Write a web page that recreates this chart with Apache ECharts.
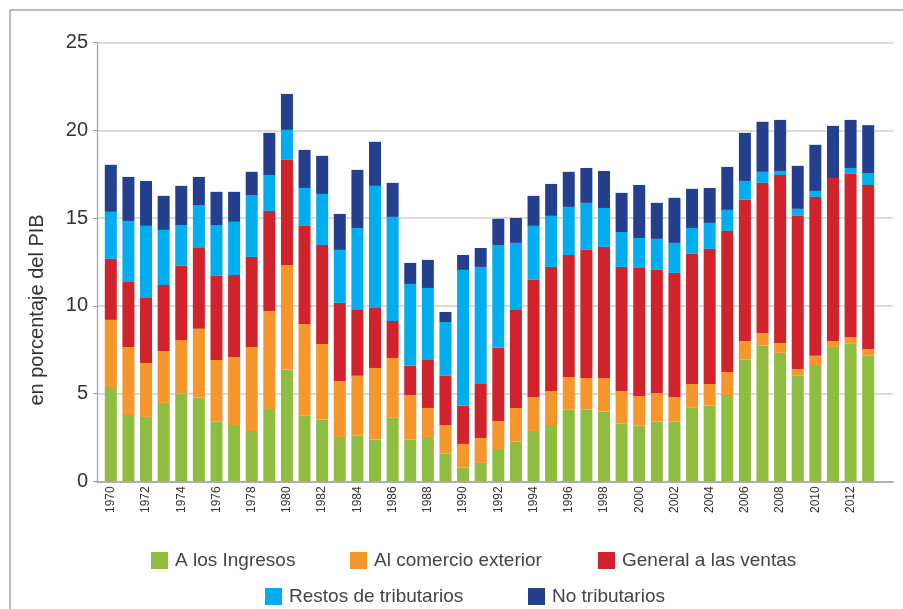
<!DOCTYPE html>
<html>
<head>
<meta charset="utf-8">
<script src="https://cdn.jsdelivr.net/npm/echarts@6/dist/echarts.min.js"></script>
<style>
  html, body { margin: 0; padding: 0; background: #fff; }
  #chart { width: 903px; height: 609px; }
</style>
</head>
<body>
<div id="chart"></div>
<script>
// Años
const years = [];
for (let y = 1970; y <= 2013; y++) years.push(String(y));

// Valores en % del PIB
const ingresos = [5.38, 3.78, 3.67, 4.47, 5.00, 4.77, 3.40, 3.21, 2.87, 4.12, 6.37,
  3.74, 3.52, 2.53, 2.60, 2.38, 3.63, 2.38, 2.53, 1.58, 0.78,
  1.05, 1.84, 2.26, 2.87, 3.21, 4.09, 4.09, 3.97, 3.29, 3.17,
  3.40, 3.40, 4.20, 4.31, 4.92, 6.94, 7.73, 7.32, 6.03, 6.63,
  7.66, 7.85, 7.16];
const comercioExterior = [3.82, 3.88, 3.08, 2.96, 3.06, 3.92, 3.52, 3.88, 4.79, 5.59, 5.96,
  5.23, 4.31, 3.19, 3.41, 4.08, 3.40, 2.54, 1.65, 1.63, 1.35,
  1.42, 1.60, 1.92, 1.94, 1.94, 1.86, 1.80, 1.92, 1.86, 1.69,
  1.64, 1.41, 1.35, 1.24, 1.31, 1.06, 0.73, 0.57, 0.37, 0.52,
  0.34, 0.38, 0.38];
const ventas = [3.48, 3.70, 3.70, 3.76, 4.22, 4.61, 4.79, 4.67, 5.13, 5.70, 5.99,
  5.59, 5.64, 4.45, 3.76, 3.42, 2.11, 1.66, 2.74, 2.80, 2.17,
  3.08, 4.18, 5.59, 6.67, 7.07, 6.95, 7.30, 7.47, 7.07, 7.30,
  7.01, 7.07, 7.43, 7.70, 8.04, 8.06, 8.55, 9.57, 8.73, 9.06,
  9.29, 9.29, 9.35];
const restoTributarios = [2.68, 3.48, 4.11, 3.14, 2.33, 2.45, 2.90, 3.03, 3.53, 2.05, 1.71,
  2.16, 2.91, 3.02, 4.67, 6.96, 5.93, 4.67, 4.10, 3.07, 7.75,
  6.67, 5.85, 3.82, 3.08, 2.91, 2.74, 2.68, 2.22, 1.99, 1.71,
  1.77, 1.71, 1.46, 1.48, 1.20, 1.06, 0.63, 0.23, 0.40, 0.34,
  0.00, 0.34, 0.68];
const noTributarios = [2.68, 2.51, 2.56, 1.94, 2.23, 1.60, 1.89, 1.71, 1.32, 2.40, 2.05,
  2.17, 2.17, 2.05, 3.31, 2.51, 1.94, 1.20, 1.60, 0.57, 0.85,
  1.08, 1.49, 1.42, 1.71, 1.82, 2.00, 1.99, 2.11, 2.23, 3.02,
  2.05, 2.57, 2.23, 1.99, 2.45, 2.74, 2.85, 2.91, 2.45, 2.63,
  2.97, 2.74, 2.73];

const seriesNames = ['A los Ingresos', 'Al comercio exterior', 'General a las ventas',
  'Restos de tributarios', 'No tributarios'];
const seriesData = [ingresos, comercioExterior, ventas, restoTributarios, noTributarios];
const colors = ['#8fbd40', '#f7962a', '#d1232b', '#00adee', '#243f8e'];

const yTicks = [0, 5, 10, 15, 20, 25];

const chart = echarts.init(document.getElementById('chart'));
const fontFamily = 'Liberation Sans, Arial, sans-serif';

function legendItem(name, left, top) {
  return {
    data: [name],
    left: left,
    top: top,
    icon: 'rect',
    itemWidth: 17,
    itemHeight: 17,
    itemGap: 0,
    padding: 0,
    selectedMode: false,
    textStyle: { fontSize: 19, color: '#444', fontFamily: fontFamily, padding: [0, 0, 0, 2] }
  };
}

const option = {
  animation: false,
  color: colors,
  graphic: [
    {
      type: 'polyline',
      shape: { points: [[10, 609], [10, 10], [903, 10]] },
      style: { stroke: '#a6a6a6', lineWidth: 1.5, fill: null }
    },
    {
      type: 'text',
      x: 37,
      y: 310,
      rotation: Math.PI / 2,
      style: {
        text: 'en porcentaje del PIB',
        fontSize: 20,
        fontFamily: fontFamily,
        fill: '#333',
        align: 'center',
        verticalAlign: 'middle'
      }
    }
  ],
  legend: [
    legendItem(seriesNames[0], 151, 551),
    legendItem(seriesNames[1], 350, 551),
    legendItem(seriesNames[2], 598, 551),
    legendItem(seriesNames[3], 265, 587),
    legendItem(seriesNames[4], 528, 587)
  ],
  grid: [
    // barras
    { left: 102, right: 26, top: 42.7, bottom: 127.7 },
    // fondo: ejes y líneas de cuadrícula
    { left: 97, right: 10, top: 42.7, bottom: 127.7 }
  ],
  xAxis: [
    {
      type: 'category',
      gridIndex: 0,
      data: years,
      axisLine: { show: false },
      axisTick: { show: false },
      axisLabel: {
        interval: 1,
        rotate: 90,
        fontSize: 12,
        margin: 5,
        color: '#333',
        fontFamily: fontFamily
      }
    },
    {
      type: 'category',
      gridIndex: 1,
      data: years,
      axisLine: { show: true, lineStyle: { color: '#a0a0a0', width: 1.5 } },
      axisTick: { show: false },
      axisLabel: { show: false }
    }
  ],
  yAxis: [
    {
      type: 'value',
      gridIndex: 0,
      min: 0,
      max: 25,
      interval: 5,
      show: false
    },
    {
      type: 'value',
      gridIndex: 1,
      min: yTicks[0],
      max: yTicks[yTicks.length - 1],
      interval: 5,
      axisLine: { show: true, lineStyle: { color: '#a0a0a0', width: 1.2 } },
      axisTick: { show: true, length: 4, inside: false, lineStyle: { color: '#a0a0a0' } },
      axisLabel: { fontSize: 20, color: '#333', margin: 9, fontFamily: fontFamily },
      splitLine: { lineStyle: { color: '#cfcfcf', width: 1.5 } }
    }
  ],
  series: seriesNames.map(function (name, i) {
    return {
      name: name,
      type: 'bar',
      stack: 'total',
      xAxisIndex: 0,
      yAxisIndex: 0,
      barWidth: 12,
      itemStyle: { color: colors[i] },
      data: seriesData[i]
    };
  })
};

chart.setOption(option);
window.addEventListener('resize', function () {
  chart.resize();
});
</script>
</body>
</html>
